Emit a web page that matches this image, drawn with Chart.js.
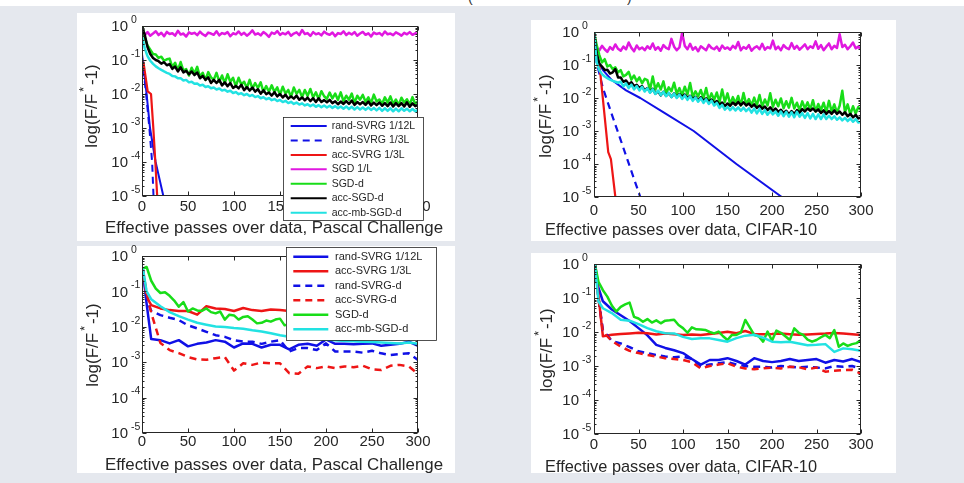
<!DOCTYPE html>
<html><head><meta charset="utf-8">
<script src="https://cdn.jsdelivr.net/npm/chart.js@4/dist/chart.umd.min.js"></script>
<style>
html,body{margin:0;padding:0;}
body{width:964px;height:483px;background:#e5e8ee;position:relative;overflow:hidden;font-family:"Liberation Sans",Arial,sans-serif;}
.strip{position:absolute;left:0;top:0;width:964px;height:6px;background:#fff;}
.panel{position:absolute;background:#fff;}
.frag{position:absolute;top:0;width:12px;height:6px;overflow:hidden;}
.frag span{position:absolute;left:0;top:-11px;font-size:14px;color:#333;}
canvas{position:absolute;left:0;top:0;}
</style></head><body>
<div class="strip"></div>
<div class="frag" style="left:468px"><span>(</span></div>
<div class="frag" style="left:627px"><span>)</span></div>
<div class="panel" style="left:77px;top:13px;width:378px;height:228px"></div>
<div class="panel" style="left:531px;top:20px;width:365px;height:221px"></div>
<div class="panel" style="left:77px;top:246px;width:378px;height:227px"></div>
<div class="panel" style="left:531px;top:253px;width:365px;height:220px"></div>
<canvas id="c1" width="964" height="483"></canvas>
<canvas id="c2" width="964" height="483"></canvas>
<canvas id="c3" width="964" height="483"></canvas>
<canvas id="c4" width="964" height="483"></canvas>
<script>
// ---------------- tick labels ----------------
const xTickValues = [0, 50, 100, 150, 200, 250, 300];
const yTickValues = [1, 0.1, 0.01, 0.001, 1e-4, 1e-5];
const xTitlePascal = 'Effective passes over data, Pascal Challenge';
const xTitleCifar = 'Effective passes over data, CIFAR-10';

// ---------------- top panels: passes (every 3) ----------------
const passesTop = [0,3,6,9,12,15,18,21,24,27,30,33,36,39,42,45,48,51,54,57,60,63,66,69,72,75,78,81,84,87,90,93,96,99,102,105,108,111,114,117,120,123,126,129,132,135,138,141,144,147,150,153,156,159,162,165,168,171,174,177,180,183,186,189,192,195,198,201,204,207,210,213,216,219,222,225,228,231,234,237,240,243,246,249,252,255,258,261,264,267,270,273,276,279,282,285,288,291,294,297,300];

// Pascal Challenge (top-left)
const pascalSgdL = [.62,.55,.66,.52,.60,.70,.54,.63,.50,.67,
 .58,.61,.52,.72,.56,.60,.49,.65,.59,.63,
 .54,.68,.57,.51,.64,.60,.55,.70,.53,.62,
 .58,.66,.50,.61,.57,.69,.55,.63,.52,.60,
 .74,.56,.61,.53,.66,.58,.48,.64,.59,.71,
 .55,.62,.57,.67,.52,.60,.65,.54,.76,.58,
 .62,.51,.66,.57,.61,.53,.68,.59,.55,.64,
 .50,.62,.58,.70,.54,.63,.56,.66,.52,.60,
 .67,.55,.61,.49,.64,.58,.62,.53,.69,.57,
 .60,.54,.65,.59,.52,.63,.57,.66,.55,.61,
 .58];
const pascalSgdD = [1.0,.45,.27,.2,.15,.145,.115,.125,.095,.105,
 .11,.062,.083,.05,.087,.049,.054,.035,.059,.04,
 .063,.032,.042,.026,.044,.031,.026,.042,.023,.035,
 .021,.038,.023,.03,.017,.03,.019,.023,.015,.026,
 .0144,.021,.015,.022,.0116,.017,.0116,.018,.0115,.0156,
 .0096,.0163,.0104,.0132,.0082,.0155,.0101,.0132,.0081,.0131,
 .0088,.0141,.0079,.0112,.0071,.0121,.0086,.0072,.011,.0074,
 .0103,.0067,.0112,.0062,.0089,.0068,.0103,.0055,.0089,.0068,
 .0094,.0059,.008,.0054,.0096,.006,.0069,.0051,.008,.0056,
 .0085,.0051,.0069,.0047,.0078,.0056,.007,.0049,.0081,.0051,
 .0062];
const pascalAccSgdD = [1.0,.55,.24,.15,.115,.1,.092,.078,.086,.07,
 .076,.055,.064,.046,.061,.043,.048,.038,.046,.036,
 .043,.029,.034,.026,.031,.021,.026,.021,.026,.018,
 .022,.017,.021,.015,.0173,.0147,.0186,.013,.016,.0126,
 .0155,.0117,.0138,.0102,.0129,.0099,.0111,.009,.0113,.0085,
 .01,.0079,.0095,.0073,.0085,.0073,.0089,.0068,.0079,.0065,
 .0078,.0062,.0075,.0058,.0075,.0058,.0066,.0057,.0067,.0054,
 .0061,.005,.006,.0051,.0062,.0051,.0064,.0048,.0058,.005,
 .0058,.0048,.006,.0046,.0056,.0047,.0056,.0045,.0054,.0044,
 .0056,.0043,.0054,.0044,.0054,.0043,.0057,.0042,.0053,.0044,
 .0048];
const pascalAccMbSgdD = [.5,.22,.13,.095,.077,.065,.057,.051,.046,.042,
 .039,.034,.033,.029,.029,.025,.026,.022,.023,.02,
 .0205,.0178,.0186,.016,.017,.0147,.0155,.0136,.0145,.0126,
 .0134,.0117,.0125,.0107,.0114,.0099,.0106,.0092,.01,.0087,
 .0094,.0081,.0087,.0075,.0081,.007,.0076,.0066,.0071,.0062,
 .0067,.0058,.0063,.0054,.0059,.0051,.0056,.0049,.0053,.0046,
 .005,.0044,.0049,.0042,.0047,.0041,.0046,.004,.0045,.0039,
 .0044,.0038,.0043,.0037,.0043,.0036,.0042,.0035,.0041,.0035,
 .004,.0034,.004,.0034,.0039,.0033,.0039,.0032,.0038,.0032,
 .0038,.0031,.0037,.0031,.0038,.0032,.0037,.0031,.0036,.0031,
 .0034];
const pascalRand12Passes = [0, 5, 8.7, 14.8, 23.2, 25.5];
const pascalRand12 = [.15, .01, 1e-3, 1e-4, 1e-5, 5e-6];
const pascalRand3Passes = [0, 4.5, 8, 11, 12.5, 13];
const pascalRand3 = [.12, .01, 1e-3, 1e-4, 1e-5, 5e-6];
const pascalAcc3Passes = [1.5, 6.2, 9.8, 12.3, 14.5, 16.5, 17];
const pascalAcc3 = [.09, .012, .01, 1e-3, 1e-4, 1e-5, 6e-6];

// CIFAR-10 (top-right)
const cifarSgdL = [.40,.32,.28,.38,.30,.25,.35,.29,.42,.31,
 .27,.36,.30,.48,.33,.26,.39,.30,.34,.28,
 .37,.31,.45,.29,.35,.27,.40,.33,.30,.62,
 .36,.28,.34,.95,.38,.30,.44,.29,.35,.26,
 .37,.32,.28,.41,.33,.30,.36,.27,.39,.31,
 .34,.29,.38,.32,.50,.28,.35,.31,.40,.27,
 .33,.37,.30,.44,.29,.35,.32,.55,.30,.36,
 .28,.40,.33,.30,.46,.31,.38,.29,.35,.42,
 .30,.37,.33,.52,.31,.40,.28,.36,.45,.30,
 .38,.33,.85,.35,.41,.30,.37,.48,.32,.36,
 .30];
const cifarSgdD = [1.0,.4,.2,.12,.15,.09,.1,.075,.085,.06,
 .07,.045,.05,.062,.036,.048,.032,.042,.028,.038,
 .035,.018,.045,.018,.028,.018,.032,.014,.021,.016,
 .029,.0135,.02,.012,.022,.0128,.0285,.0108,.016,.0112,
 .0175,.0098,.02,.0086,.0138,.0088,.0147,.0075,.0181,.0076,
 .0138,.0065,.0106,.007,.0115,.0059,.0141,.0064,.0093,.006,
 .0103,.0059,.0123,.0055,.009,.0059,.0139,.0054,.0089,.0056,
 .0097,.0049,.008,.0051,.0101,.0048,.0072,.0043,.0079,.0048,
 .0074,.0044,.0086,.0039,.0066,.0043,.0072,.0037,.0082,.0039,
 .0064,.0036,.0058,.0165,.0037,.0064,.0032,.0056,.0034,.0053,
 .0043];
const cifarAccSgdD = [1.0,.22,.11,.09,.07,.072,.055,.06,.075,.042,
 .042,.031,.034,.026,.03,.023,.025,.02,.023,.017,
 .02,.015,.019,.0135,.016,.012,.0155,.0117,.0141,.0108,
 .0138,.0106,.0132,.011,.0127,.0099,.0117,.0092,.0108,.0085,
 .0105,.0081,.0097,.0077,.009,.007,.0081,.0062,.0073,.0057,
 .0068,.0058,.0073,.0061,.0076,.0061,.0074,.0059,.0068,.0054,
 .0064,.005,.0059,.0047,.0055,.0043,.0052,.0041,.0048,.0038,
 .0044,.0035,.0041,.0032,.004,.0033,.0043,.0036,.0046,.0039,
 .0048,.0041,.0048,.0039,.0045,.0035,.0042,.0033,.004,.0033,
 .0042,.0033,.0039,.0031,.0037,.0028,.0033,.0026,.0031,.0024,
 .0026];
const cifarAccMbSgdD = [1.0,.12,.07,.053,.045,.04,.036,.033,.031,.029,
 .031,.0226,.0276,.02,.0253,.0183,.023,.017,.0219,.0157,
 .0198,.0144,.0184,.0132,.0169,.0122,.0155,.0113,.0145,.0106,
 .0136,.01,.0127,.0094,.012,.0088,.0113,.0082,.0104,.0077,
 .0098,.0071,.0091,.0066,.0083,.0059,.0071,.005,.0062,.0044,
 .0054,.0043,.0053,.0042,.0052,.0041,.0051,.004,.0049,.0036,
 .0048,.0034,.0047,.0033,.0043,.0031,.004,.0032,.0039,.0029,
 .0039,.0028,.0038,.0027,.0037,.0026,.0038,.0027,.0035,.0025,
 .0035,.0024,.0033,.0023,.0032,.0023,.0032,.0023,.0029,.0023,
 .0028,.0022,.0026,.0021,.0025,.002,.0024,.0019,.0023,.0018,
 .0019];
const cifarRand12Passes = [0, 3, 10, 20, 36, 52, 80, 112, 160, 211, 216];
const cifarRand12 = [1, .15, .07, .035, .017, .01, 3.4e-3, 1e-3, 1e-4, 1e-5, 8e-6];
const cifarRand3Passes = [0, 3, 10, 20, 30, 40, 52, 54];
const cifarRand3 = [1, .12, .02, 3.2e-3, 5.3e-4, 8.7e-5, 1e-5, 7e-6];
const cifarAcc3Passes = [0, 2, 7, 16, 19, 24, 24.5];
const cifarAcc3 = [1, .4, .06, 2.3e-4, 1.4e-4, 1e-5, 7e-6];

// ---------------- bottom panels ----------------
const passesB10 = [1,5,10,20,30,40,50,60,70,80,90,100,110,120,130,140,150,160,170,180,190,200,210,220,230,240,250,260,270,280,290,300];
const passesB5 = [1,5,10,15,20,25,30,35,40,45,50,55,60,65,70,75,80,85,90,95,100,105,110,115,120,125,130,135,140,145,150,155,160,165,170,175,180,185,190,195,200,205,210,215,220,225,230,235,240,245,250,255,260,265,270,275,280,285,290,295,300];

// Pascal Challenge (bottom-left)
const pascalBRand12 = [.4,.045,.0045,.0042,.0034,.0042,.0028,.0033,.0036,.0042,.0038,.0026,.0034,.0033,.0026,.0031,.0031,.0023,.0031,.0033,.0029,.0044,.0033,.0033,.0032,.0033,.0034,.0029,.0031,.0033,.0038,.0029];
const pascalBAcc3 = [.4,.07,.041,.033,.0296,.028,.028,.022,.038,.033,.032,.028,.034,.0296,.028,.031,.0296,.028,.031,.03,.029,.032,.03,.028,.031,.029,.03,.032,.029,.03,.031,.03];
const pascalBRandD = [.4,.06,.028,.0214,.018,.0155,.011,.009,.0072,.0058,.0052,.0042,.0038,.0038,.0033,.0038,.0042,.002,.0025,.0025,.0022,.0034,.002,.002,.002,.00186,.0021,.00178,.0016,.0017,.00178,.00115];
const pascalBAccD = [.4,.09,.025,.0035,.0022,.0018,.0014,.0012,.00117,.0013,.0014,.00058,.00093,.00084,.00098,.00093,.00093,.00049,.00047,.00076,.00068,.00076,.00068,.00076,.00072,.0008,.00063,.0006,.00079,.00084,.00076,.00047];
const pascalBSgdD = [.44,.49,.2,.12,.09,.095,.075,.055,.037,.05,.027,.033,.029,.028,.033,.026,.024,.027,.016,.022,.021,.016,.019,.02,.016,.0125,.013,.015,.014,.016,.017,.011,
 .012,.01,.013,.011,.009,.012,.01,.0095,.011,.0085,.01,.009,.0078,.0095,.0085,.008,.009,.0075,.0085,.008,.007,.0082,.0075,.0068,.008,.0072,.0065,.0075,.007];
const pascalBAccMb = [.44,.1,.06,.038,.026,.02,.016,.013,.0115,.0102,.0098,.0092,.0088,.008,.0074,.0066,.0058,.0052,.005,.0048,.0046,.0044,.0042,.004,.0039,.0038,.0037,.0036,.0035,.0034,.0036,.0033];

// CIFAR-10 (bottom-right)
const cifarBRand12 = [1,.2,.08,.046,.031,.021,.013,.008,.0042,.0034,.0029,.0024,.0016,.0011,.0015,.0015,.0017,.0014,.0011,.0017,.0014,.0013,.0014,.0016,.0014,.0015,.0016,.00125,.0015,.00135,.0016,.0013];
const cifarBAcc3 = [1,.12,.0075,.0083,.0087,.0091,.0095,.0092,.0085,.009,.0086,.0082,.0085,.0082,.0087,.0094,.0102,.0092,.0107,.0088,.0086,.0087,.009,.0086,.0083,.0085,.0088,.009,.0094,.0091,.0086,.0082];
const cifarBRandD = [1,.1,.0115,.0055,.0046,.0036,.0027,.0024,.0021,.0019,.0018,.0019,.0016,.001,.0011,.0012,.0013,.0011,.001,.00095,.00095,.0009,.001,.00095,.0009,.00095,.0009,.00085,.001,.00095,.001,.00082];
const cifarBAccD = [1,.1,.01,.0055,.0037,.0028,.0024,.0021,.0019,.0017,.0016,.0015,.0013,.00085,.001,.0011,.0012,.00095,.00085,.0008,.00085,.0009,.00085,.00095,.00092,.0008,.0009,.00068,.00072,.00076,.00078,.0006];
const cifarBSgdD = [1,.3,.17,.11,.06,.04,.055,.065,.073,.028,.025,.02,.024,.019,.022,.018,.0215,.022,.023,.016,.013,.0095,.0137,.012,.0118,.0115,.01,.0091,.0103,.0075,.0058,.0082,.0082,.0096,.0226,.0137,.0082,.0075,.0052,.0103,.0055,.011,.0095,.0075,.0058,.0128,.0095,.0082,.006,.0052,.0058,.007,.0082,.0066,.0114,.0037,.0046,.0039,.0044,.0047,.0058];
const cifarBAccMb = [1,.08,.05,.036,.023,.0215,.017,.013,.0105,.0092,.0091,.0072,.0062,.0066,.0065,.0058,.0052,.0066,.0078,.0083,.0068,.0052,.005,.0052,.0046,.0041,.0042,.0044,.0026,.0033,.0031,.0028];

// ---------------- styling ----------------
const FONT = '"Liberation Sans", Arial, Helvetica, sans-serif';
const TXT = '#262626';
const C = { blue:'#1010e6', red:'#ee1515', mag:'#e018e0', green:'#18dd18', black:'#000000', cyan:'#22e2e2' };

function zip(xs, ys){ const n=Math.min(xs.length, ys.length); const out=[]; for(let i=0;i<n;i++) out.push({x:xs[i], y:ys[i]}); return out; }
function ds(label, xs, ys, color, width, dash){
  return { label, data: zip(xs, ys), borderColor: color, backgroundColor: color, borderWidth: width, borderDash: dash||[], fill:false, pointRadius:0, borderJoinStyle:'round', borderCapStyle:'butt' };
}

const matlabAxes = {
  id: 'matlabAxes',
  afterDatasetsDraw(chart, args, o){
    const ctx = chart.ctx, a = chart.chartArea, xs = chart.scales.x, ys = chart.scales.y;
    ctx.save();
    ctx.strokeStyle = TXT; ctx.fillStyle = TXT; ctx.lineWidth = 1;
    const L = Math.round(a.left)+0.5, R = Math.round(a.right)-0.5, T = Math.round(a.top)+0.5, B = Math.round(a.bottom)-0.5;
    ctx.beginPath();
    xTickValues.forEach(v=>{
      const px = Math.round(xs.getPixelForValue(v))+0.5;
      ctx.moveTo(px, B); ctx.lineTo(px, B-4);
      ctx.moveTo(px, T); ctx.lineTo(px, T+4);
    });
    yTickValues.forEach(v=>{
      const py = Math.round(ys.getPixelForValue(v))+0.5;
      ctx.moveTo(L, py); ctx.lineTo(L+4, py);
      ctx.moveTo(R, py); ctx.lineTo(R-4, py);
      if (v < 1) for (let m=2;m<=9;m++){
        const q = Math.round(ys.getPixelForValue(v*m))+0.5;
        ctx.moveTo(L, q); ctx.lineTo(L+2, q);
        ctx.moveTo(R, q); ctx.lineTo(R-2, q);
      }
    });
    ctx.stroke();
    ctx.strokeRect(L, T, R-L, B-T);

    ctx.font = o.tickSize + 'px ' + FONT;
    ctx.textAlign = 'center'; ctx.textBaseline = 'middle';
    xTickValues.forEach(v=>{ ctx.fillText(String(v), xs.getPixelForValue(v), a.bottom + o.xLabelDy); });
    yTickValues.forEach(v=>{
      const py = ys.getPixelForValue(v);
      const e = Math.round(Math.log10(v));
      ctx.font = o.tickSize + 'px ' + FONT; ctx.textAlign='right'; ctx.textBaseline='middle';
      ctx.fillText('10', a.left - o.yLabelDx, py + 1);
      ctx.font = o.expSize + 'px ' + FONT; ctx.textAlign='left';
      ctx.fillText(String(e), a.left - o.yLabelDx + 3, py - 6);
    });
    ctx.font = '100px ' + FONT;
    const fs = 100 * o.xTitle.w / ctx.measureText(o.xTitle.text).width;
    ctx.font = fs.toFixed(2) + 'px ' + FONT; ctx.textAlign='center'; ctx.textBaseline='middle';
    ctx.fillText(o.xTitle.text, o.xTitle.cx, o.xTitle.cy);

    ctx.save();
    ctx.translate(o.yTitle.cx, o.yTitle.cy); ctx.rotate(-Math.PI/2);
    const f = o.yTitle.size;
    ctx.textAlign='left'; ctx.textBaseline='middle';
    ctx.font = f+'px '+FONT; const w1 = ctx.measureText('log(F/F').width; const w3 = ctx.measureText('-1)').width;
    ctx.font = (f*0.72)+'px '+FONT; const w2 = ctx.measureText('*').width;
    const total = w1 + o.yTitle.g1 + w2 + o.yTitle.g2 + w3;
    let x = -total/2;
    ctx.font = f+'px '+FONT; ctx.fillText('log(F/F', x, 0); x += w1 + o.yTitle.g1;
    ctx.font = (f*0.72)+'px '+FONT; ctx.fillText('*', x, -f*0.42); x += w2 + o.yTitle.g2;
    ctx.font = f+'px '+FONT; ctx.fillText('-1)', x, 0);
    ctx.restore();

    if (o.legend){
      const lg = o.legend;
      ctx.fillStyle = '#ffffff';
      ctx.fillRect(lg.box[0], lg.box[1], lg.box[2], lg.box[3]);
      ctx.strokeStyle = TXT; ctx.lineWidth = 0.8;
      ctx.strokeRect(lg.box[0]+0.5, lg.box[1]+0.5, lg.box[2], lg.box[3]);
      ctx.font = lg.size + 'px ' + FONT; ctx.textAlign='left'; ctx.textBaseline='middle';
      chart.data.datasets.forEach((d,i)=>{
        const y = lg.firstY + i*lg.stepY;
        ctx.save();
        ctx.strokeStyle = d.borderColor; ctx.lineWidth = lg.lineW; ctx.setLineDash(d.borderDash||[]);
        ctx.beginPath(); ctx.moveTo(lg.lineX[0], y); ctx.lineTo(lg.lineX[1], y); ctx.stroke();
        ctx.restore();
        ctx.fillStyle = TXT;
        ctx.fillText(d.label, lg.textX, y);
      });
    }
    ctx.restore();
  }
};

function makeChart(id, datasets, o){
  datasets.forEach((d,i)=>{ d.order = -i; });
  return new Chart(document.getElementById(id), {
    type: 'line',
    data: { datasets },
    options: {
      responsive: false, animation: false, devicePixelRatio: 1,
      layout: { padding: { left: o.area[0], top: o.area[1], right: 964 - o.area[2], bottom: 483 - o.area[3] } },
      scales: {
        x: { type: 'linear', min: 0, max: 300, display: false },
        y: { type: 'logarithmic', min: 1e-5, max: 1, display: false }
      },
      plugins: { legend: { display: false }, tooltip: { enabled: false }, matlabAxes: o },
      elements: { point: { radius: 0 }, line: { tension: 0 } }
    },
    plugins: [matlabAxes]
  });
}

const DASH = [7, 5];
makeChart('c1', [
  ds('rand-SVRG 1/12L', pascalRand12Passes, pascalRand12, C.blue, 2),
  ds('rand-SVRG 1/3L', pascalRand3Passes, pascalRand3, C.blue, 2, DASH),
  ds('acc-SVRG 1/3L', pascalAcc3Passes, pascalAcc3, C.red, 2.2),
  ds('SGD 1/L', passesTop, pascalSgdL, C.mag, 2.5),
  ds('SGD-d', passesTop, pascalSgdD, C.green, 2.5),
  ds('acc-SGD-d', passesTop, pascalAccSgdD, C.black, 2.5),
  ds('acc-mb-SGD-d', passesTop, pascalAccMbSgdD, C.cyan, 2.5)
], { area:[142, 26, 418, 196], tickSize:15, expSize:10.5, xLabelDy:11, yLabelDx:14,
     xTitle:{ text:xTitlePascal, w:338, cx:274, cy:228 },
     yTitle:{ cx:92, cy:106, size:17, g1:2, g2:2 },
     legend:{ box:[283,117,140,103], firstY:126, stepY:14.45, lineX:[290.7,326.7], textX:331.7, size:10.5, lineW:2 } });

makeChart('c2', [
  ds('rand-SVRG 1/12L', cifarRand12Passes, cifarRand12, C.blue, 2),
  ds('rand-SVRG 1/3L', cifarRand3Passes, cifarRand3, C.blue, 2.2, DASH),
  ds('acc-SVRG 1/3L', cifarAcc3Passes, cifarAcc3, C.red, 2.2),
  ds('SGD 1/L', passesTop, cifarSgdL, C.mag, 2.5),
  ds('SGD-d', passesTop, cifarSgdD, C.green, 2.5),
  ds('acc-SGD-d', passesTop, cifarAccSgdD, C.black, 2.5),
  ds('acc-mb-SGD-d', passesTop, cifarAccMbSgdD, C.cyan, 2.5)
], { area:[594, 32, 861, 197], tickSize:15, expSize:10.5, xLabelDy:14, yLabelDx:15,
     xTitle:{ text:xTitleCifar, w:272, cx:681, cy:230 },
     yTitle:{ cx:546, cy:116, size:17, g1:2, g2:2 } });

makeChart('c3', [
  ds('rand-SVRG 1/12L', passesB10, pascalBRand12, C.blue, 2.5),
  ds('acc-SVRG 1/3L', passesB10, pascalBAcc3, C.red, 2.5),
  ds('rand-SVRG-d', passesB10, pascalBRandD, C.blue, 2.5, DASH),
  ds('acc-SVRG-d', passesB10, pascalBAccD, C.red, 2.5, DASH),
  ds('SGD-d', passesB5, pascalBSgdD, C.green, 2.5),
  ds('acc-mb-SGD-d', passesB10, pascalBAccMb, C.cyan, 2.5)
], { area:[142, 256, 418, 433], tickSize:15, expSize:10.5, xLabelDy:9, yLabelDx:14,
     xTitle:{ text:xTitlePascal, w:338, cx:274, cy:465 },
     yTitle:{ cx:93, cy:345, size:17, g1:2, g2:2 },
     legend:{ box:[286,247,150,93], firstY:256.7, stepY:14.5, lineX:[293.3,328.3], textX:335, size:11, lineW:2.5 } });

makeChart('c4', [
  ds('rand-SVRG 1/12L', passesB10, cifarBRand12, C.blue, 2.5),
  ds('acc-SVRG 1/3L', passesB10, cifarBAcc3, C.red, 2.5),
  ds('rand-SVRG-d', passesB10, cifarBRandD, C.blue, 2.5, DASH),
  ds('acc-SVRG-d', passesB10, cifarBAccD, C.red, 2.5, DASH),
  ds('SGD-d', passesB5, cifarBSgdD, C.green, 2.5),
  ds('acc-mb-SGD-d', passesB10, cifarBAccMb, C.cyan, 2.5)
], { area:[594, 264, 861, 434], tickSize:15, expSize:10.5, xLabelDy:11, yLabelDx:15,
     xTitle:{ text:xTitleCifar, w:272, cx:681, cy:467 },
     yTitle:{ cx:547, cy:350, size:17, g1:2, g2:2 } });
</script>
</body></html>
